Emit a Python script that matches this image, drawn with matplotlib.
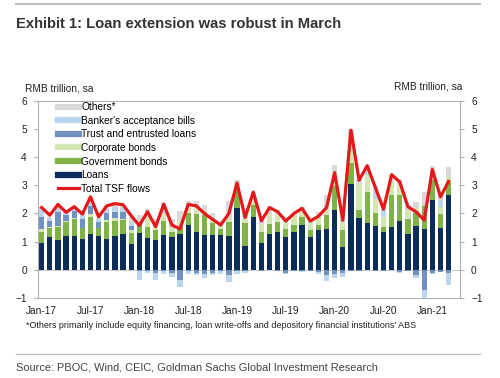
import numpy as np
import pandas as pd
import matplotlib
matplotlib.use("Agg")
import matplotlib.pyplot as plt
from matplotlib.lines import Line2D

plt.rcParams["font.family"] = ["Liberation Sans", "DejaVu Sans"]

months = pd.date_range("2017-01-01", periods=51, freq="MS")

loans = [0.94, 1.18, 1.06, 1.20, 1.21, 1.09, 1.27, 1.21, 1.08, 1.21, 1.26, 0.91,
         1.29, 1.14, 1.06, 1.24, 1.18, 1.27, 1.59, 1.35, 1.24, 1.24, 1.24, 1.21,
         2.21, 0.86, 1.86, 0.96, 1.27, 1.33, 1.15, 1.33, 1.59, 1.15, 1.41, 1.44,
         2.12, 0.82, 3.04, 1.85, 1.67, 1.56, 1.33, 1.51, 1.74, 1.27, 1.55, 1.44,
         2.49, 1.47, 2.67]

gov_bonds = [0.41, 0.30, 0.47, 0.51, 0.61, 0.38, 0.61, 0.26, 0.60, 0.53, 0.50, 0.41,
             0.39, 0.39, 0.35, 0.49, 0.17, 0.26, 0.41, 0.63, 0.70, 0.41, 0.20, 0.50,
             0.59, 0.79, 0.43, 0.37, 0.35, 0.35, 0.29, 0.26, 0.29, 0.26, 0.18, 0.50,
             0.85, 0.59, 0.76, 0.27, 1.10, 0.44, 0.20, 1.14, 0.91, 0.55, 0.45, 0.82,
             0.69, 0.51, 0.45]

corp_bonds = [0.10, 0.05, 0.02, 0.03, 0.03, 0.03, 0.10, 0.03, 0.10, 0.10, 0.05, 0.10,
              0.05, 0.30, 0.10, 0.25, 0.15, 0.20, 0.25, 0.20, 0.15, 0.10, 0.10, 0.10,
              0.25, 0.15, 0.30, 0.30, 0.35, 0.25, 0.26, 0.30, 0.24, 0.30, 0.30, 0.30,
              0.50, 0.30, 0.90, 0.94, 0.60, 0.53, 0.35, 0.45, 0.40, 0.30, 0.20, 0.05,
              0.22, 0.26, 0.17]

trust = [0.43, 0.20, 0.50, 0.20, 0.25, 0.30, 0.30, 0.20, 0.25, 0.20, 0.25, 0.15,
         -0.05, -0.05, -0.10, -0.05, -0.10, -0.35, -0.05, -0.10, -0.15, -0.10, -0.05, -0.20,
         -0.05, -0.05, -0.02, -0.03, -0.02, -0.03, -0.10, -0.03, -0.05, -0.03, -0.08, -0.20,
         -0.15, -0.10, -0.03, -0.03, 0.00, -0.04, -0.04, 0.00, -0.08, -0.03, -0.20, -0.72,
         -0.10, -0.08, -0.10]

ba_bills = [0.26, 0.10, 0.10, 0.05, 0.05, 0.15, 0.10, 0.10, 0.15, 0.20, 0.15, 0.10,
            -0.30, -0.05, -0.25, -0.10, -0.15, -0.25, -0.10, -0.10, -0.15, -0.10, -0.10, -0.25,
            -0.10, -0.05, -0.01, -0.02, -0.01, -0.02, -0.05, -0.02, -0.03, -0.02, -0.07, -0.20,
            -0.15, -0.15, -0.02, -0.02, 0.15, 0.29, 0.25, 0.00, -0.04, -0.02, -0.10, -0.28,
            -0.05, 0.25, -0.45]

others = [0.09, 0.05, 0.08, 0.05, 0.10, 0.05, 0.15, 0.05, 0.10, 0.15, 0.10, 0.20,
          0.20, 0.32, 0.30, 0.40, 0.30, 0.35, 0.20, 0.25, 0.20, 0.25, 0.20, 0.65,
          0.15, 0.20, 0.18, 0.13, 0.28, 0.20, 0.18, 0.10, 0.10, 0.08, 0.16, 0.41,
          0.25, 0.24, 0.30, 0.15, 0.18, 0.18, 0.10, 0.28, 0.19, 0.17, 0.20, 0.45,
          0.30, 0.25, 0.36]

total_tsf = [2.21, 1.94, 2.32, 2.04, 2.24, 1.98, 2.59, 1.88, 2.27, 2.35, 2.31, 1.92,
             1.57, 2.06, 1.53, 2.33, 1.59, 1.45, 2.32, 2.27, 2.00, 1.79, 1.59, 2.00,
             3.08, 1.86, 2.76, 1.74, 2.21, 2.06, 1.73, 2.00, 2.18, 1.73, 1.90, 2.21,
             3.45, 1.76, 4.96, 3.18, 3.70, 2.92, 2.15, 3.38, 3.12, 2.24, 2.06, 1.76,
             3.56, 2.59, 3.14]

series = [
    ("Loans", loans, "#0c2d5a"),
    ("Government bonds", gov_bonds, "#7fb347"),
    ("Corporate bonds", corp_bonds, "#d3e6b4"),
    ("Trust and entrusted loans", trust, "#6f92c3"),
    ("Banker's acceptance bills", ba_bills, "#bcd6ef"),
    ("Others*", others, "#d9d9d9"),
]

fig = plt.figure(figsize=(5.0, 3.78), dpi=100)
ax = fig.add_axes([0.076, 0.212, 0.844, 0.521])

x = np.arange(len(months))
pos_base = np.zeros(len(x))
neg_base = np.zeros(len(x))
for name, vals, color in series:
    v = np.array(vals)
    pos = np.where(v > 0, v, 0)
    neg = np.where(v < 0, v, 0)
    ax.bar(x, pos, bottom=pos_base, width=0.65, color=color, linewidth=0, zorder=2)
    ax.bar(x, neg, bottom=neg_base, width=0.65, color=color, linewidth=0, zorder=2)
    pos_base += pos
    neg_base += neg

ax.plot(x, total_tsf, color="#e3191c", linewidth=2.3, zorder=3)

ax.axhline(0, color="#bfbfbf", linewidth=0.6, zorder=1)

ax.set_xlim(-0.45, 51.4)
ax.set_ylim(-1, 6)
ax.set_yticks(range(-1, 7))
tick_pos = x[::6]
ax.set_xticks(tick_pos)
ax.set_xticklabels([months[i].strftime("%b-%y") for i in tick_pos])

for s in ax.spines.values():
    s.set_color("#b0b0b0")
    s.set_linewidth(0.8)

ax.tick_params(axis="x", length=0, labelsize=7.3, colors="#222222", pad=6)
ax.tick_params(axis="y", length=3, color="#b0b0b0", labelsize=7.3,
               labelcolor="#222222", pad=5, left=True, right=True, labelright=True)

handles = [
    Line2D([0], [0], color="#d9d9d9", lw=4.5),
    Line2D([0], [0], color="#bcd6ef", lw=4.5),
    Line2D([0], [0], color="#6f92c3", lw=4.5),
    Line2D([0], [0], color="#d3e6b4", lw=4.5),
    Line2D([0], [0], color="#7fb347", lw=4.5),
    Line2D([0], [0], color="#0c2d5a", lw=4.5),
    Line2D([0], [0], color="#e3191c", lw=2.3),
]
labels = ["Others*", "Banker's acceptance bills", "Trust and entrusted loans",
          "Corporate bonds", "Government bonds", "Loans", "Total TSF flows"]
ax.legend(handles, labels, loc="upper left", bbox_to_anchor=(0.035, 1.02), frameon=False,
          fontsize=7.3, handlelength=2.1, handletextpad=0.2, labelspacing=0.36,
          borderaxespad=0.1)

fig.text(0.05, 0.765, "RMB trillion, sa", fontsize=7.3, color="#222222", va="center")
fig.text(0.926, 0.770, "RMB trillion, sa", fontsize=7.3, color="#222222",
         va="center", ha="right")

fig.text(0.032, 0.937, "Exhibit 1: Loan extension was robust in March",
         fontsize=10.6, fontweight="bold", color="#333333", va="center")

fig.text(0.052, 0.138, "*Others primarily include equity financing, loan write-offs and "
         "depository financial institutions' ABS", fontsize=6.5, color="#222222", va="center")

fig.add_artist(Line2D([0.032, 0.96], [0.989, 0.989], color="#c0c0c0", lw=1.5))
fig.add_artist(Line2D([0.032, 0.96], [0.063, 0.063], color="#c0c0c0", lw=1.0))
fig.text(0.032, 0.027, "Source: PBOC, Wind, CEIC, Goldman Sachs Global Investment Research",
         fontsize=7.9, color="#444444", va="center")

fig.savefig("out.png", dpi=100)
